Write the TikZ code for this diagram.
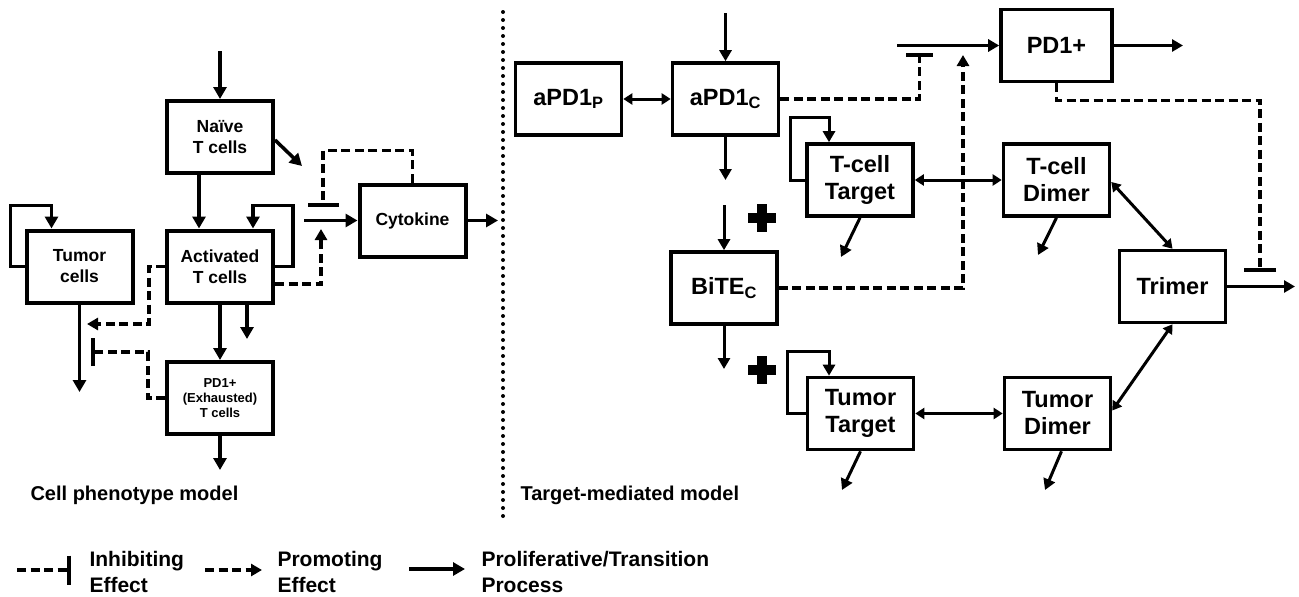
\documentclass[tikz,border=0pt]{standalone}
\usepackage{fontspec}
\setmainfont{Liberation Sans}
\usetikzlibrary{arrows.meta}

\tikzset{
  box/.style={draw, line width=4pt, minimum width=106pt, minimum height=72pt, inner sep=0pt,
    align=center, font=\bfseries\fontsize{17.5}{21}\selectfont},
  bigbox/.style={box, line width=3.6pt, font=\bfseries\fontsize{23.5}{27}\selectfont},
  proc/.style={line width=3.5pt, -{Triangle[length=12pt,width=13pt]}},
  rproc/.style={line width=3pt, -{Triangle[length=11pt,width=12pt]}},
  rev/.style={line width=3pt, {Triangle[length=9pt,width=11pt]}-{Triangle[length=9pt,width=11pt]}},
  prom/.style={line width=3.5pt, dash pattern=on 9pt off 4.5pt, -{Triangle[length=11pt,width=12pt]}},
  inhib/.style={line width=3.5pt, dash pattern=on 9pt off 4.5pt, -{Bar[width=#1, line width=4pt]}},
  inhib/.default=30pt,
  sep/.style={line width=4pt, line cap=round, dash pattern=on 0pt off 8pt},
  label/.style={anchor=west, font=\bfseries\fontsize{20}{24}\selectfont},
  legtext/.style={anchor=west, align=left, font=\bfseries\fontsize{21}{26}\selectfont}
}

\begin{document}
\begin{tikzpicture}[x=1pt, y=-1pt]
    \useasboundingbox (0,0) rectangle (1299,597);

    % cell phenotype model
    \node[box] (naive) at (220,137) {Naïve\\T cells};
    \node[box] (act) at (220,266.5) {Activated\\T cells};
    \node[box] (tumor) at (79.5,266.5) {Tumor\\cells};
    \node[box, font=\bfseries\fontsize{13}{15}\selectfont] (exh) at (220,398) {PD1+\\(Exhausted)\\T cells};
    \node[box] (cyto) at (412.5,220.5) {Cytokine};

    \coordinate (naivein) at (220,51);
    \coordinate (naiveout) at (302,166);
    \coordinate (actout) at (247,339);
    \coordinate (exhout) at (220,470);
    \coordinate (tumorout) at (79.5,392);
    \coordinate (cytoin) at (304,220.5);
    \coordinate (cytoout) at (498,220.5);
    \coordinate (cytobar) at (323,207);
    \coordinate (cytoprom) at (321,229);
    \coordinate (tumorprom) at (87,324);
    \coordinate (tumorbar) at (91,352);

    \draw[proc] (naivein) -- (naive);
    \draw[proc] ([yshift=-3pt]naive.east) -- (naiveout);
    \draw[proc] ([xshift=-21pt]naive.south) -- ([xshift=-21pt]act.north);
    \draw[proc] (act.east) -- ++(18,0) -- ++(0,-61) -| ([xshift=33pt]act.north);
    \draw[proc] (tumor.west) -- ++(-14,0) -- ++(0,-61) -| ([xshift=-28pt]tumor.north);
    \draw[proc] (act) -- (exh);
    \draw[proc] (act.south -| actout) -- (actout);
    \draw[proc] (exh) -- (exhout);
    \draw[proc] (tumor) -- (tumorout);
    \draw[proc] (cytoin) -- (cyto);
    \draw[proc] (cyto) -- (cytoout);
    \draw[inhib=31pt] (cyto.north) -- ++(0,-32) -| (cytobar);
    \draw[prom] ([yshift=-17.5pt]act.east) -| (cytoprom);
    \draw[prom] (act.west) -- ++(-16,0) |- (tumorprom);
    \draw[inhib=28pt] (exh.west) -- ++(-17,0) |- (tumorbar);

    % separator
    \coordinate (septop) at (503,12);
    \coordinate (sepbot) at (503,521);
    \draw[sep] (septop) -- (sepbot);

    % target-mediated model
    \node[bigbox] (apdp) at (568.5,99) {aPD1\textsubscript{P}};
    \node[bigbox] (apdc) at (725.5,99) {aPD1\textsubscript{C}};
    \node[bigbox] (bite) at (724,288) {BiTE\textsubscript{C}};
    \node[bigbox] (tctarget) at (860,180) {T-cell\\Target};
    \node[bigbox] (tmtarget) at (860.5,413.5) {Tumor\\Target};
    \node[bigbox, minimum width=111pt] (pdpos) at (1056.5,45.5) {PD1+};
    \node[bigbox] (tcdimer) at (1056.5,180) {T-cell\\Dimer};
    \node[bigbox] (tmdimer) at (1057.5,413.5) {Tumor\\Dimer};
    \node[bigbox] (trimer) at (1172.5,286.5) {Trimer};

    \coordinate (apdcin) at (725.5,13);
    \coordinate (apdcout) at (725.5,180);
    \coordinate (bitein) at (724,205);
    \coordinate (biteout) at (724,369);
    \coordinate (tctout) at (841,257);
    \coordinate (tmtout) at (842,490);
    \coordinate (tcdout) at (1038,255);
    \coordinate (tmdout) at (1045,490);
    \coordinate (pdposin) at (897,45.5);
    \coordinate (pdposout) at (1183,45.5);
    \coordinate (trimerout) at (1295,286.5);
    \coordinate (pdposbar) at (919.5,53);
    \coordinate (pdposprom) at (963,55);
    \coordinate (trimerbar) at (1260,272);

    \draw[rev] (apdp) -- (apdc);
    \draw[rproc] (apdcin) -- (apdc);
    \draw[rproc] (apdc) -- (apdcout);
    \draw[rproc] (bitein) -- (bite);
    \draw[rproc] (bite) -- (biteout);
    \draw[line width=10pt] (748,218) -- (776,218) (762,204) -- (762,232);
    \draw[line width=10pt] (748,370) -- (776,370) (762,356) -- (762,384);
    \draw[rproc] (tctarget.west) -- ++(-15,0) -- ++(0,-63) -| ([xshift=-31pt]tctarget.north);
    \draw[rproc] (tmtarget.west) -- ++(-18,0) -- ++(0,-62) -| ([xshift=-31.5pt]tmtarget.north);
    \draw[rproc] (tctarget.south) -- (tctout);
    \draw[rproc] (tmtarget.south) -- (tmtout);
    \draw[rproc] (tcdimer.south) -- (tcdout);
    \draw[rproc] ([xshift=4pt]tmdimer.south) -- (tmdout);
    \draw[rev] (tctarget) -- (tcdimer);
    \draw[rev] (tmtarget) -- (tmdimer);
    \draw[rev] ([yshift=-2pt]tcdimer.east) -- (trimer.north);
    \draw[rev] ([yshift=3pt]tmdimer.east) -- (trimer.south);
    \draw[rproc] (trimer) -- (trimerout);
    \draw[rproc] (pdposin) -- (pdpos);
    \draw[rproc] (pdpos) -- (pdposout);
    \draw[inhib=27pt] (apdc.east) -| (pdposbar);
    \draw[prom] (bite.east) -| (pdposprom);
    \draw[inhib=32pt] (pdpos.south) -- ++(0,17) -| (trimerbar);

    \node[label] (cellmodel) at (27,495) {Cell phenotype model};
    \node[label] (tgtmodel) at (517,495) {Target-mediated model};

    % legend
    \coordinate (legin) at (17,570);
    \coordinate (leginend) at (71,570);
    \coordinate (legpr) at (205,570);
    \coordinate (legprend) at (262,570);
    \coordinate (legtr) at (409,569);
    \coordinate (legtrend) at (465,569);
    \draw[inhib=29pt] (legin) -- (leginend);
    \draw[prom] (legpr) -- (legprend);
    \draw[proc] (legtr) -- (legtrend);
    \node[legtext] (leginhib) at (86,572) {Inhibiting\\Effect};
    \node[legtext] (legprom) at (274,572) {Promoting\\Effect};
    \node[legtext] (legproc) at (478,572) {Proliferative/Transition\\Process};
\end{tikzpicture}
\end{document}
